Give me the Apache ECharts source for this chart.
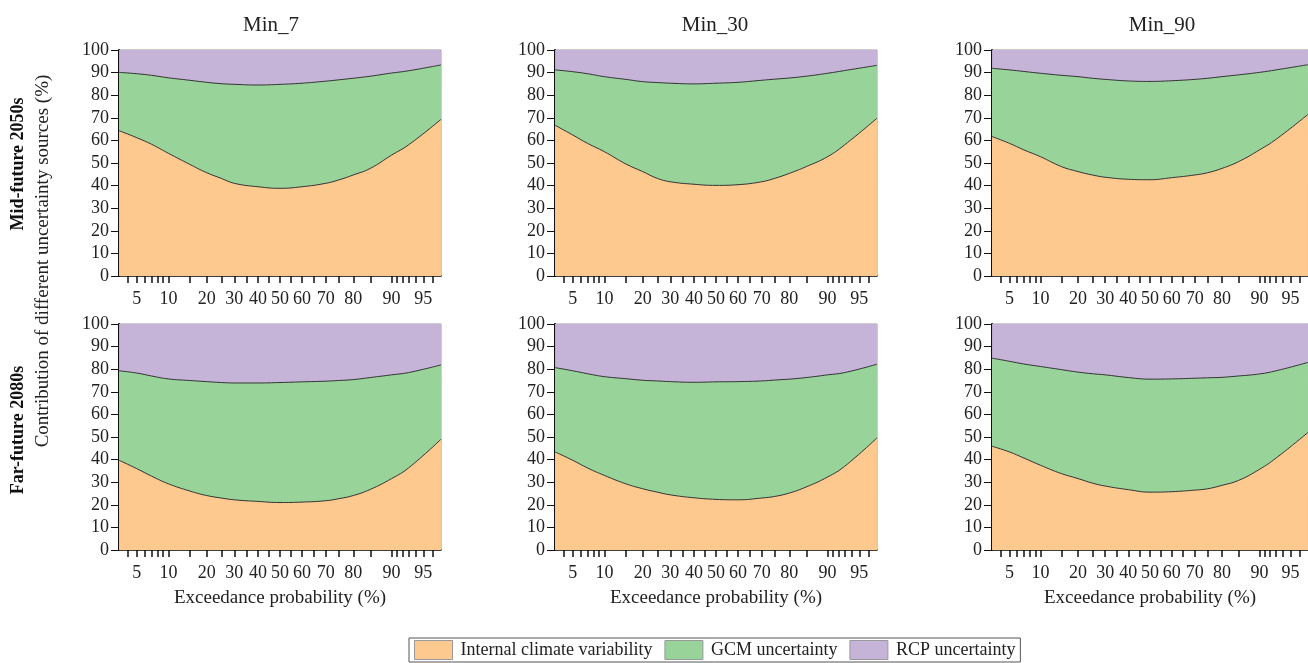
<!DOCTYPE html>
<html>
<head>
<meta charset="utf-8">
<script src="https://cdn.jsdelivr.net/npm/echarts@6/dist/echarts.min.js"></script>
<style>
html,body{margin:0;padding:0;background:#fff;}
#chart{width:1308px;height:663px;}
</style>
</head>
<body>
<div id="chart"></div>
<script>
// Exceedance probabilities (%) at which the curves were read
const probs = [3.23, 5, 7, 10, 15, 20, 25, 30, 40, 50, 60, 70, 75, 80, 85, 90, 93, 96.77];
const xTickProbs = [4, 5, 6, 7, 8, 9, 10, 15, 20, 25, 30, 35, 40, 45, 50, 55, 60, 65, 70, 75, 80, 85, 90, 91, 92, 93, 94, 95, 96];
const xLabelProbs = [5, 10, 20, 30, 40, 50, 60, 70, 80, 90, 95];
const columnTitles = ['Min_7', 'Min_30', 'Min_90'];
const rowTitles = ['Mid-future 2050s', 'Far-future 2080s'];
const seriesNames = ['Internal climate variability', 'GCM uncertainty', 'RCP uncertainty'];

// Top of the internal-climate-variability band (%)
const icv_min7_mid  = [64.3, 61.2, 58.3, 54.3, 49.4, 45.7, 43.2, 41.0, 39.5, 38.8, 39.5, 41.0, 42.5, 44.7, 47.6, 53.5, 58.0, 69.3];
const icv_min30_mid = [66.7, 62.4, 58.7, 55.0, 49.6, 46.2, 43.2, 41.7, 40.6, 40.1, 40.4, 41.7, 43.2, 45.4, 48.4, 52.8, 58.0, 69.8];
const icv_min90_mid = [61.7, 58.7, 55.8, 52.8, 48.4, 46.2, 44.7, 43.7, 42.8, 42.6, 43.5, 44.7, 45.7, 47.6, 50.6, 55.8, 60.5, 71.5];
const icv_min7_far  = [39.7, 36.0, 32.7, 29.3, 26.1, 24.1, 23.0, 22.2, 21.5, 21.0, 21.2, 21.8, 22.7, 24.1, 26.8, 31.6, 36.3, 49.0];
const icv_min30_far = [43.4, 39.7, 36.3, 33.0, 29.3, 27.1, 25.6, 24.4, 23.1, 22.4, 22.2, 23.0, 23.7, 25.2, 27.9, 32.3, 37.0, 49.6];
const icv_min90_far = [45.9, 43.4, 40.7, 37.5, 33.8, 31.6, 29.6, 28.3, 26.7, 25.6, 25.8, 26.5, 27.1, 28.6, 30.8, 35.7, 40.7, 52.0];

// Top of the GCM band (internal + GCM, %); RCP fills the rest up to 100
const top_min7_mid  = [90.1, 89.5, 88.8, 87.7, 86.6, 85.7, 85.1, 84.8, 84.5, 84.8, 85.3, 86.2, 86.8, 87.5, 88.4, 89.8, 90.8, 93.4];
const top_min30_mid = [91.2, 90.4, 89.5, 88.2, 87.0, 86.0, 85.6, 85.3, 85.0, 85.3, 85.7, 86.6, 87.1, 87.6, 88.4, 89.7, 90.9, 93.2];
const top_min90_mid = [91.9, 91.2, 90.5, 89.7, 88.8, 88.2, 87.5, 87.0, 86.3, 86.1, 86.4, 87.0, 87.5, 88.2, 89.0, 90.1, 91.2, 93.5];
const top_min7_far  = [79.3, 78.3, 77.0, 75.7, 75.0, 74.5, 74.1, 73.9, 73.9, 74.1, 74.4, 74.7, 75.0, 75.4, 76.3, 77.5, 78.5, 81.9];
const top_min30_far = [80.7, 79.3, 78.0, 76.7, 75.8, 75.1, 74.8, 74.5, 74.2, 74.4, 74.5, 74.8, 75.2, 75.6, 76.3, 77.5, 78.5, 82.2];
const top_min90_far = [84.9, 83.5, 82.3, 81.2, 79.8, 78.7, 78.0, 77.5, 76.3, 75.6, 75.7, 76.0, 76.2, 76.4, 77.0, 77.9, 79.3, 83.0];

const panels = [
  [icv_min7_mid, top_min7_mid], [icv_min30_mid, top_min30_mid], [icv_min90_mid, top_min90_mid],
  [icv_min7_far, top_min7_far], [icv_min30_far, top_min30_far], [icv_min90_far, top_min90_far]
];

// Normal probability (probit) axis transform
function probit(p) {
  const a = [-3.969683028665376e+01, 2.209460984245205e+02, -2.759285104469687e+02, 1.383577518672690e+02, -3.066479806614716e+01, 2.506628277459239e+00];
  const b = [-5.447609879822406e+01, 1.615858368580409e+02, -1.556989798598866e+02, 6.680131188771972e+01, -1.328068155288572e+01];
  const c = [-7.784894002430293e-03, -3.223964580411365e-01, -2.400758277161838e+00, -2.549671348908137e+00, 4.374664141464968e+00, 2.938163982698783e+00];
  const d = [7.784695709041462e-03, 3.224671290700398e-01, 2.445134137142996e+00, 3.754408661907416e+00];
  const pl = 0.02425, ph = 1 - pl;
  let q, r;
  if (p < pl) { q = Math.sqrt(-2 * Math.log(p)); return (((((c[0]*q+c[1])*q+c[2])*q+c[3])*q+c[4])*q+c[5]) / ((((d[0]*q+d[1])*q+d[2])*q+d[3])*q+1); }
  if (p <= ph) { q = p - 0.5; r = q*q; return (((((a[0]*r+a[1])*r+a[2])*r+a[3])*r+a[4])*r+a[5])*q / (((((b[0]*r+b[1])*r+b[2])*r+b[3])*r+b[4])*r+1); }
  q = Math.sqrt(-2 * Math.log(1 - p));
  return -(((((c[0]*q+c[1])*q+c[2])*q+c[3])*q+c[4])*q+c[5]) / ((((d[0]*q+d[1])*q+d[2])*q+d[3])*q+1);
}
const zOf = p => probit(p / 100);
const xMin = zOf(100 / 31), xMax = zOf(3000 / 31);
const tickZ = xTickProbs.map(zOf);
const labelZ = xLabelProbs.map(zOf);
const labelMap = {};
xLabelProbs.forEach((p, i) => { labelMap[labelZ[i].toFixed(4)] = String(p); });

const colors = ['#FDC98F', '#98D49A', '#C5B3D8'];
const serif = '"Liberation Serif", "DejaVu Serif", serif';
const colLeft = [119, 555, 992];
const rowTop = [50, 324];
const gridW = 322, gridH = 226;

const grid = [], xAxis = [], yAxis = [], series = [];
panels.forEach((pd, i) => {
  const row = Math.floor(i / 3), col = i % 3;
  grid.push({ left: colLeft[col], top: rowTop[row], width: gridW, height: gridH, show: true, borderColor: '#999', borderWidth: 1, backgroundColor: 'transparent' });
  xAxis.push({
    type: 'value', gridIndex: i, min: xMin, max: xMax,
    name: row === 1 ? 'Exceedance probability (%)' : '', nameLocation: 'middle', nameGap: 39,
    nameTextStyle: { fontFamily: serif, fontSize: 19, color: '#222' },
    axisLine: { show: true, onZero: false, lineStyle: { color: '#111', width: 1.5 } },
    axisTick: { show: true, length: 7, customValues: tickZ, lineStyle: { color: '#111', width: 1.5 } },
    axisLabel: { customValues: labelZ, margin: 14, fontFamily: serif, fontSize: 18, color: '#222',
      hideOverlap: false, formatter: v => labelMap[v.toFixed(4)] || '' },
    splitLine: { show: false }
  });
  yAxis.push({
    type: 'value', gridIndex: i, min: 0, max: 100, interval: 10,
    axisLine: { show: true, onZero: false, lineStyle: { color: '#111', width: 2 } },
    axisTick: { show: true, length: 8, lineStyle: { color: '#111', width: 1 } },
    axisLabel: { margin: 10, fontFamily: serif, fontSize: 18, color: '#222' },
    splitLine: { show: false }
  });
  const lower = pd[0], upper = pd[1];
  // Bands drawn from the baseline: RCP (full height), then GCM top, then internal on top
  const bands = [lower, upper, upper.map(() => 100)];
  bands.forEach((vals, s) => {
    series.push({
      name: seriesNames[s], type: 'line', xAxisIndex: i, yAxisIndex: i,
      smooth: 0.45, symbol: 'none', silent: true,
      data: vals.map((v, k) => [zOf(probs[k]), v]),
      itemStyle: { color: colors[s] },
      lineStyle: { color: '#333', width: s === 2 ? 0 : 1 },
      areaStyle: { color: colors[s], opacity: 1, origin: 'start' },
      z: 5 - s
    });
  });
});

const graphic = [];
const titleX = [271, 715, 1162];
columnTitles.forEach((t, c) => graphic.push({ type: 'text', x: titleX[c], y: 25,
  style: { text: t, fill: '#222', font: '21px ' + serif, align: 'center', verticalAlign: 'middle' } }));
const rowY = [164, 430];
rowTitles.forEach((t, r) => graphic.push({ type: 'text', x: 18, y: rowY[r], rotation: Math.PI / 2,
  style: { text: t, fill: '#111', font: 'bold 18px ' + serif, align: 'center', verticalAlign: 'middle' } }));
graphic.push({ type: 'text', x: 43, y: 261, rotation: Math.PI / 2,
  style: { text: 'Contribution of different uncertainty sources (%)', fill: '#222', font: '19px ' + serif, align: 'center', verticalAlign: 'middle' } });

const chart = echarts.init(document.getElementById('chart'), null, { renderer: 'canvas' });
chart.setOption({
  animation: false,
  backgroundColor: '#fff',
  grid, xAxis, yAxis, series, graphic,
  legend: {
    left: 409, top: 638, padding: [2, 5, 2, 5], itemGap: 12, itemWidth: 38, itemHeight: 19,
    borderColor: '#555', borderWidth: 1, icon: 'rect',
    selectedMode: false,
    textStyle: { fontFamily: serif, fontSize: 18, color: '#222', padding: [0, 0, 0, 3] },
    data: seriesNames.map((n, s) => ({ name: n, icon: 'rect',
      itemStyle: { color: colors[s], borderColor: '#999', borderWidth: 1 } }))
  }
});
</script>
</body>
</html>
